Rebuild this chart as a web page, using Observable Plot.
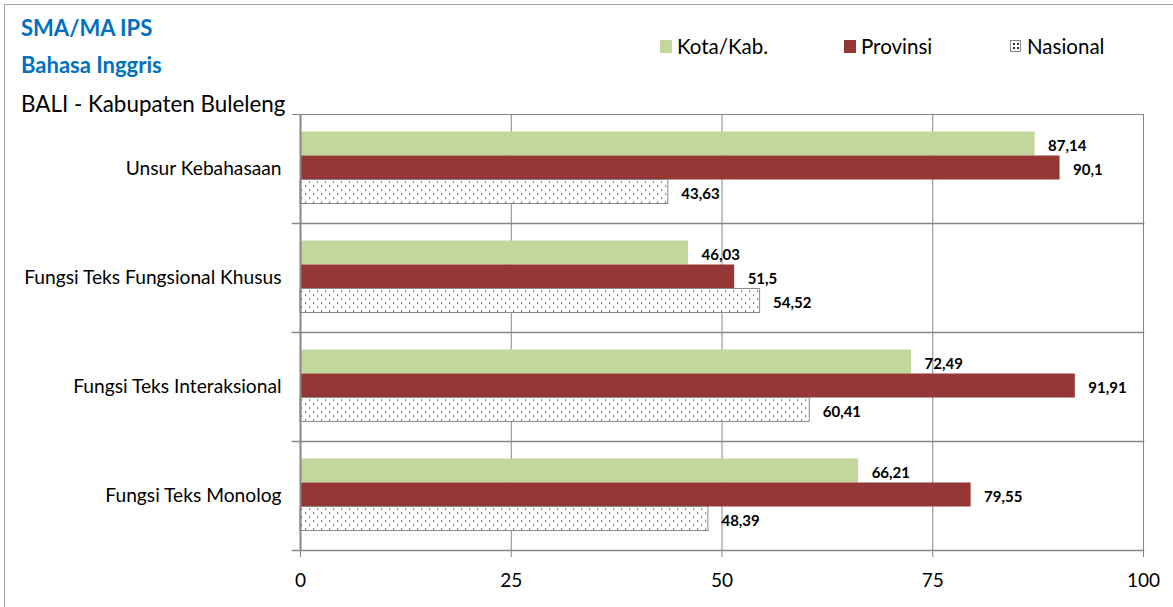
<!DOCTYPE html>
<html>
<head>
<meta charset="utf-8">
<script src="https://cdn.jsdelivr.net/npm/d3@7"></script>
<script src="https://cdn.jsdelivr.net/npm/@observablehq/plot@0.6"></script>
<style>
  html, body { margin: 0; padding: 0; background: #fff; }
  #wrap { position: relative; width: 1173px; height: 607px; overflow: hidden; font-family: Lato, sans-serif; }
  #frame { position: absolute; left: 4px; top: 4px; width: 1200px; height: 700px; border-left: 1.5px solid #a6a6a6; border-top: 1.5px solid #a6a6a6; }
  .t { position: absolute; line-height: 1; white-space: nowrap; }
  .blue { color: #0070C0; font-weight: bold; }
  #legend .sw { position: absolute; width: 12px; height: 13px; }
  #chart { position: absolute; left: 0; top: 0; }
</style>
</head>
<body>
<div id="wrap">
  <div id="frame"></div>
  <div id="chart"></div>
  <div class="t blue" style="left:21px; top:17px; font-size:22px;">SMA/MA IPS</div>
  <div class="t blue" style="left:21px; top:54px; font-size:22px;">Bahasa Inggris</div>
  <div class="t" style="left:21px; top:93px; font-size:22.4px; color:#000;">BALI - Kabupaten Buleleng</div>
  <div id="legend"></div>
</div>
<script>
const categories = ["Unsur Kebahasaan", "Fungsi Teks Fungsional Khusus", "Fungsi Teks Interaksional", "Fungsi Teks Monolog"];
const series = ["Kota/Kab.", "Provinsi", "Nasional"];
const kotaKab = [87.14, 46.03, 72.49, 66.21];
const provinsi = [90.1, 51.5, 91.91, 79.55];
const nasional = [43.63, 54.52, 60.41, 48.39];
const xTicks = [0, 25, 50, 75, 100];

const seriesValues = [kotaKab, provinsi, nasional];
const data = [];
categories.forEach((c, i) => series.forEach((s, j) => data.push({cat: c, series: s, value: seriesValues[j][i]})));
const fmt = v => String(v).replace(".", ",");

const GRID = "#868686";
const fills = {"Kota/Kab.": "#C3D69B", "Provinsi": "#953735", "Nasional": "url(#dots)"};

const chart = Plot.plot({
  width: 1173,
  height: 607,
  marginLeft: 300,
  marginRight: 30,
  marginTop: 112,
  marginBottom: 56,
  style: {fontFamily: "Lato, sans-serif", background: "transparent", overflow: "visible"},
  x: {domain: [0, 100]},
  fy: {domain: categories, padding: 0},
  y: {domain: series, paddingInner: 0, paddingOuter: 0.72, axis: null},
  marks: [
    Plot.ruleX([25, 50, 75, 100], {stroke: GRID, strokeWidth: 1}),
    Plot.frame({anchor: "top", stroke: GRID, strokeWidth: 1.2, insetLeft: -8}),
    Plot.frame({anchor: "bottom", stroke: GRID, strokeWidth: 1.5, insetLeft: -8}),
    ...series.map(s => Plot.barX(data.filter(d => d.series === s), {
      fy: "cat", y: "series", x: "value",
      fill: fills[s],
      stroke: s === "Nasional" ? "#8a8a8a" : "none",
      strokeWidth: 1,
      dy: -1.5
    })),
    Plot.ruleX([0], {stroke: GRID, strokeWidth: 2}),
    Plot.text(data, {
      fy: "cat", y: "series", x: "value", text: d => fmt(d.value),
      dx: 13, dy: 1, textAnchor: "start", fontWeight: "bold", fontSize: 15, fill: "#000"
    }),
    Plot.axisX(xTicks, {anchor: "bottom", tickSize: 7, tickPadding: 16, stroke: GRID, fontSize: 19, fill: "#000", label: null, tickFormat: d => String(d)}),
    Plot.axisFy({anchor: "left", tickSize: 0, tickPadding: 19, fontSize: 19.2, fill: "#000", label: null})
  ]
});

d3.select(chart).insert("defs", ":first-child").html(
  `<pattern id="dots" patternUnits="userSpaceOnUse" width="8" height="8">
     <rect width="8" height="8" fill="#fff"/>
     <rect x="1" y="1" width="1.2" height="1.2" fill="#333"/>
     <rect x="5" y="5" width="1.2" height="1.2" fill="#333"/>
   </pattern>`
);
document.getElementById("chart").appendChild(chart);

// Legend
const legend = document.getElementById("legend");
const legendItems = [
  {label: "Kota/Kab.", x: 660, color: "#C3D69B"},
  {label: "Provinsi", x: 844, color: "#953735"},
  {label: "Nasional", x: 1010, color: null}
];
legendItems.forEach(it => {
  const sw = document.createElement("div");
  sw.className = "sw";
  sw.style.left = it.x + "px";
  sw.style.top = "40px";
  if (it.color) sw.style.background = it.color;
  else {
    sw.style.width = "11px"; sw.style.height = "12px";
    sw.style.border = "1px solid #8a8a8a";
    sw.style.boxSizing = "border-box";
    sw.style.background = "radial-gradient(circle, #333 0.8px, transparent 1px) 1px 1px / 4px 4px, #fff";
  }
  legend.appendChild(sw);
  const t = document.createElement("div");
  t.className = "t";
  t.textContent = it.label;
  t.style.left = (it.x + 17) + "px";
  t.style.top = "36px";
  t.style.fontSize = "20.5px";
  t.style.color = "#000";
  legend.appendChild(t);
});
</script>
</body>
</html>
